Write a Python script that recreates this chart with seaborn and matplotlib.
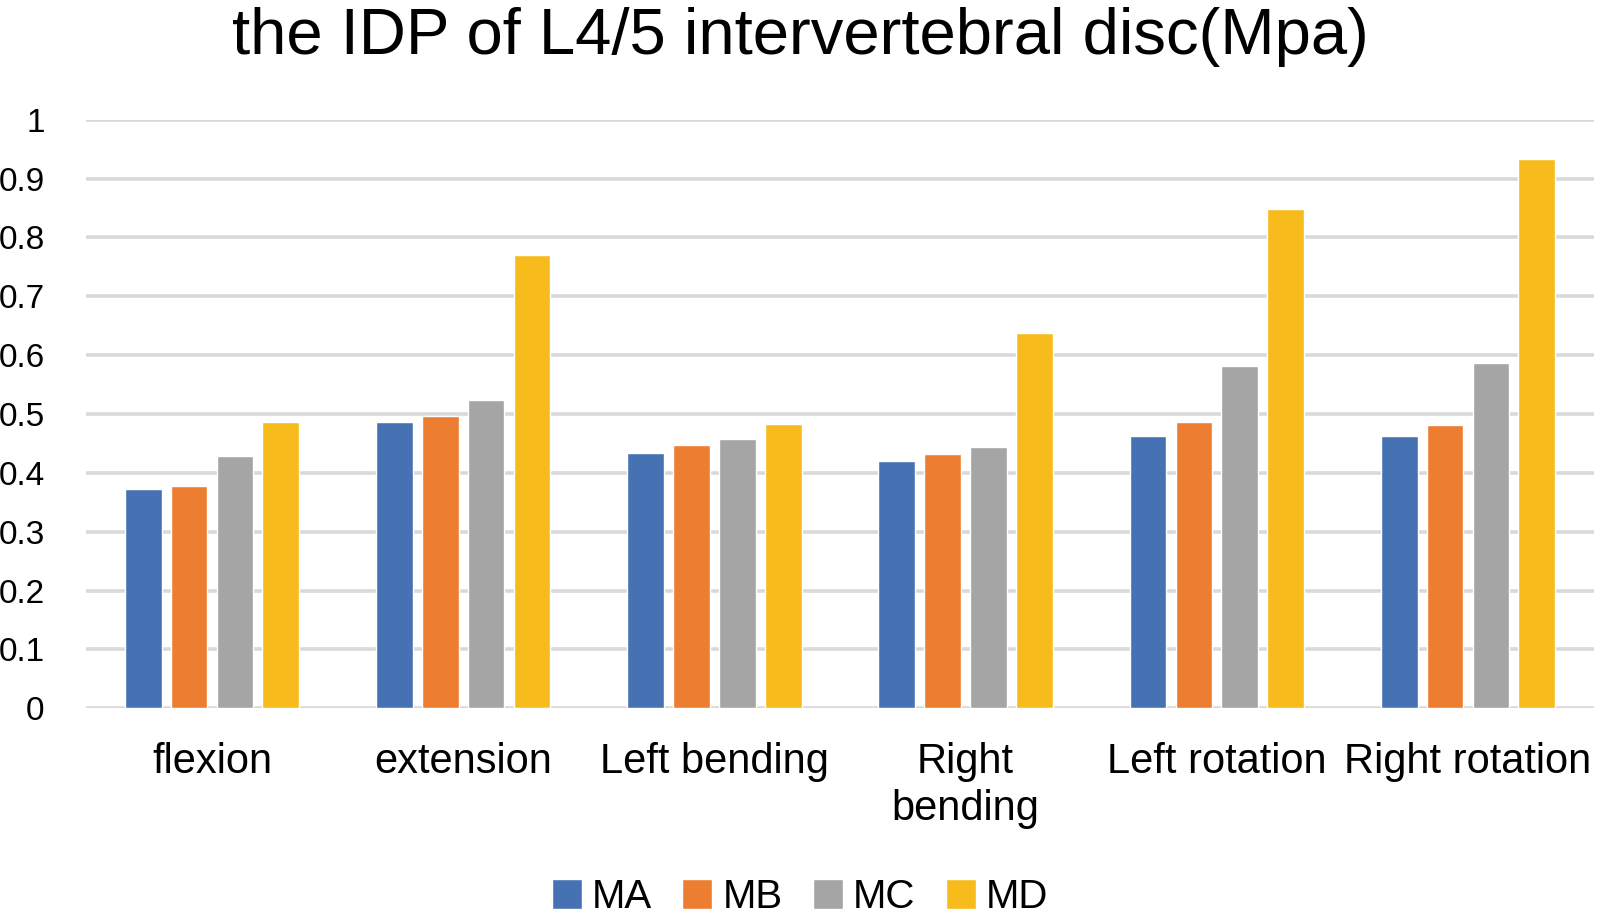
import numpy as np
import pandas as pd
import matplotlib
matplotlib.use("Agg")
import matplotlib.pyplot as plt
import seaborn as sns

# ── Data ──────────────────────────────────────────────────────────────────────
categories = ["flexion", "extension", "Left bending", "Right\nbending",
              "Left rotation", "Right rotation"]
series = ["MA", "MB", "MC", "MD"]
ma = [0.373, 0.487, 0.434, 0.420, 0.463, 0.463]
mb = [0.378, 0.497, 0.448, 0.432, 0.487, 0.482]
mc = [0.429, 0.523, 0.457, 0.444, 0.582, 0.587]
md = [0.487, 0.771, 0.483, 0.638, 0.849, 0.934]
colors = ["#4672b4", "#ed7d31", "#a5a5a5", "#f7bc1c"]
yticks = [0, 0.1, 0.2, 0.3, 0.4, 0.5, 0.6, 0.7, 0.8, 0.9, 1]
ytick_labels = ["0", "0.1", "0.2", "0.3", "0.4", "0.5", "0.6", "0.7", "0.8", "0.9", "1"]

df = pd.DataFrame({
    "category": categories * 4,
    "model": np.repeat(series, len(categories)),
    "value": ma + mb + mc + md,
})

sns.set_theme(style="white")
plt.rcParams["font.family"] = ["Liberation Sans", "DejaVu Sans"]
plt.rcParams["text.color"] = "black"
plt.rcParams["xtick.color"] = "black"
plt.rcParams["ytick.color"] = "black"

fig = plt.figure(figsize=(16, 9.21), dpi=100)
ax = fig.add_axes([0.054, 0.231, 0.942, 0.639])

sns.barplot(data=df, x="category", y="value", hue="model", order=categories,
            hue_order=series, palette=colors, width=0.73, gap=0.2,
            saturation=1, ax=ax, legend=True)

ax.set_ylim(0, 1)
ax.set_xlim(-0.5, 5.5)
ax.set_yticks(yticks)
ax.set_yticklabels(ytick_labels)
ax.yaxis.grid(True, color="#d9d9d9", linewidth=2.6)
ax.set_axisbelow(True)
for s in ax.spines.values():
    s.set_visible(False)
ax.tick_params(axis="y", length=0, pad=30, labelsize=24, labelcolor="black")
ax.tick_params(axis="x", length=0, pad=24, labelsize=30, labelcolor="black")
for lab in ax.get_xticklabels():
    lab.set_linespacing(1.25)
    lab.set_verticalalignment("top")
ax.set_xlabel("")
ax.set_ylabel("")

handles, labels = ax.get_legend_handles_labels()
ax.get_legend().remove()
leg = fig.legend(handles, labels, loc="center", bbox_to_anchor=(0.5, 0.026),
                 ncol=4, frameon=False, fontsize=29, handlelength=0.75,
                 handleheight=0.75, handletextpad=0.25, columnspacing=0.75)

fig.suptitle("the IDP of L4/5 intervertebral disc(Mpa)", fontsize=47, y=0.992,
             va="top", color="black")

fig.savefig("out.png", dpi=100)
